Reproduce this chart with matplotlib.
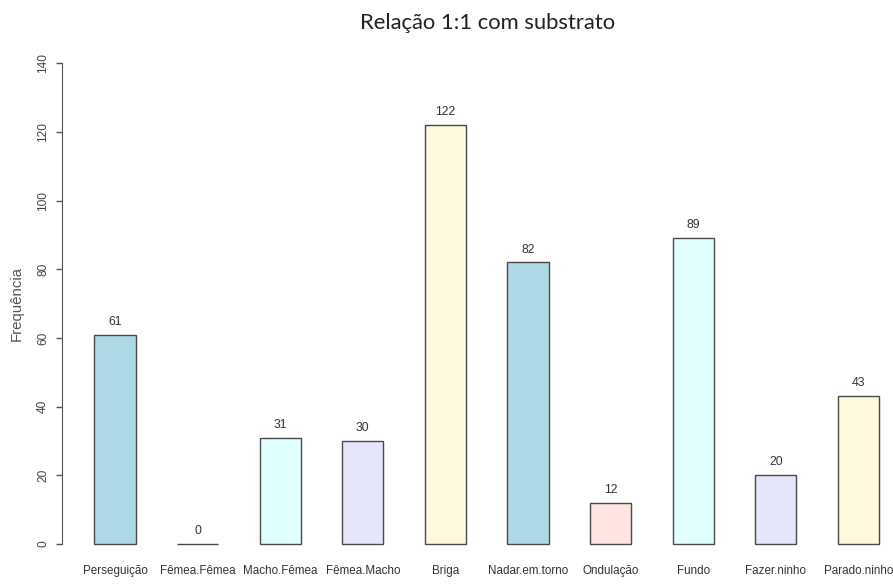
import matplotlib.pyplot as plt

categories = ['Perseguição', 'Fêmea.Fêmea', 'Macho.Fêmea', 'Fêmea.Macho', 'Briga',
              'Nadar.em.torno', 'Ondulação', 'Fundo', 'Fazer.ninho', 'Parado.ninho']
counts = [61, 0, 31, 30, 122, 82, 12, 89, 20, 43]
colors = ['lightblue', 'mistyrose', 'lightcyan', 'lavender', 'cornsilk',
          'lightblue', 'mistyrose', 'lightcyan', 'lavender', 'cornsilk']
yticks = [0, 20, 40, 60, 80, 100, 120, 140]

fig = plt.figure(figsize=(8.93, 5.85), dpi=100)
ax = fig.add_axes([62 / 893, 41 / 585, (880 - 62) / 893, (544 - 63.3) / 585])

x_pos = list(range(len(categories)))
bars = ax.bar(x_pos, counts, width=0.5, color=colors, edgecolor='#4a4a4a',
              linewidth=1, clip_on=False)
for rect, v in zip(bars, counts):
    ax.annotate(str(v), (rect.get_x() + rect.get_width() / 2, v),
                xytext=(0, 5), textcoords='offset points', ha='center', va='bottom',
                family='Liberation Sans', fontsize=8.8, color='#333333')

ax.set_xlim(-0.642, (880 - 115) / 82.6)
ax.set_ylim(0, 140)
ax.set_yticks(yticks)
ax.set_yticklabels([str(t) for t in yticks], rotation=90, va='center',
                   family='Liberation Sans', fontsize=8.6, color='#444444')
ax.set_xticks(x_pos)
ax.set_xticklabels(categories, family='Liberation Sans', fontsize=8.4, color='#333333')
ax.tick_params(axis='x', length=0, pad=15)
ax.tick_params(axis='y', length=4.3, width=1, color='#555555', pad=5)

for s in ['top', 'right', 'bottom']:
    ax.spines[s].set_visible(False)
ax.spines['left'].set_color('#555555')

ax.set_ylabel('Frequência', family='Liberation Sans', fontsize=10.8, color='#555555')
ax.yaxis.set_label_coords(-38 / 818, 0.5)

fig.text(488 / 893, 1 - 23 / 585, 'Relação 1:1 com substrato', ha='center',
         va='center', family='Lato', fontsize=15.8, color='#222222')

plt.savefig('out.png', dpi=100)
